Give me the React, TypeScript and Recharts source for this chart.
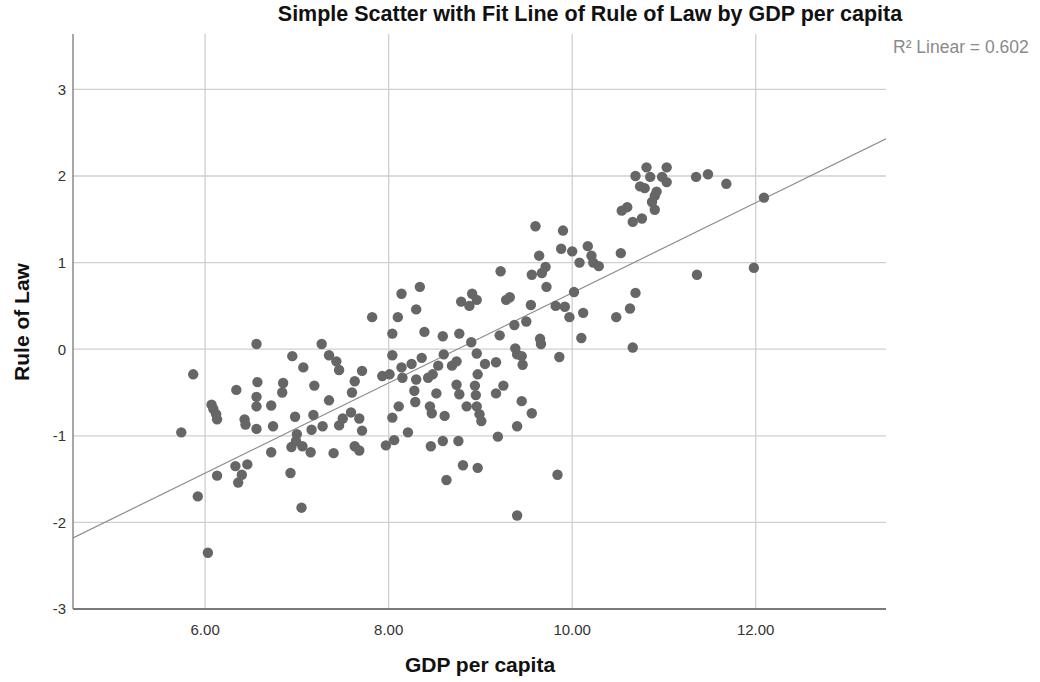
import React from "react";
import {
  ScatterChart,
  Scatter,
  XAxis,
  YAxis,
  CartesianGrid,
  ReferenceLine,
} from "recharts";

const gdpPerCapita: number[] = [
  5.74, 5.87, 5.92, 6.03, 6.07, 6.09, 6.12, 6.13, 6.13, 6.33, 6.34, 6.36, 6.4, 6.43, 6.44, 6.46,
  6.56, 6.57, 6.56, 6.56, 6.56, 6.72, 6.74, 6.72, 6.85, 6.84, 6.93, 6.94, 6.95, 6.98, 7.0, 6.99,
  7.05, 7.06, 7.07, 7.15, 7.16, 7.18, 7.19, 7.27, 7.28, 7.35, 7.35, 7.4, 7.43, 7.46, 7.46, 7.5,
  7.59, 7.6, 7.63, 7.63, 7.68, 7.68, 7.71, 7.71, 7.82, 7.93, 7.97,
  8.01, 8.04, 8.04, 8.04, 8.06, 8.1, 8.11, 8.14, 8.14, 8.15, 8.21, 8.25, 8.28, 8.29, 8.3, 8.3,
  8.34, 8.36, 8.39, 8.43, 8.45, 8.46, 8.47, 8.48, 8.52, 8.54, 8.59, 8.59, 8.6, 8.61, 8.63, 8.69,
  8.74, 8.74, 8.76, 8.77, 8.77, 8.79, 8.81, 8.85, 8.88, 8.9, 8.91, 8.94, 8.95, 8.96, 8.96, 8.96,
  8.97, 8.97, 8.99, 9.01, 9.05, 9.17, 9.17, 9.19, 9.21, 9.22, 9.25, 9.28, 9.32, 9.37, 9.38, 9.4,
  9.4, 9.4, 9.45, 9.45, 9.46, 9.5, 9.55, 9.56, 9.56, 9.6, 9.64, 9.65, 9.66, 9.67, 9.71, 9.72,
  9.82, 9.84, 9.86, 9.88, 9.9, 9.92, 9.97,
  10.0, 10.02, 10.08, 10.1, 10.12, 10.17, 10.21, 10.23, 10.29, 10.48, 10.53, 10.54, 10.6, 10.63,
  10.66, 10.66, 10.69, 10.69, 10.74, 10.76, 10.79, 10.81, 10.85, 10.87, 10.9, 10.9, 10.92, 10.98,
  11.03, 11.03, 11.35, 11.36, 11.48, 11.68, 11.98, 12.09,
];

const ruleOfLaw: number[] = [
  -0.96, -0.29, -1.7, -2.35, -0.64, -0.69, -0.75, -0.81, -1.46, -1.35, -0.47, -1.54, -1.45, -0.81, -0.87, -1.33,
  0.06, -0.38, -0.55, -0.66, -0.92, -0.65, -0.89, -1.19, -0.39, -0.5, -1.43, -1.13, -0.08, -0.78, -0.98, -1.06,
  -1.83, -1.12, -0.21, -1.19, -0.93, -0.76, -0.42, 0.06, -0.89, -0.07, -0.59, -1.2, -0.14, -0.24, -0.88, -0.8,
  -0.73, -0.5, -0.37, -1.12, -0.8, -1.17, -0.25, -0.94, 0.37, -0.31, -1.11,
  -0.29, 0.18, -0.07, -0.79, -1.05, 0.37, -0.66, 0.64, -0.21, -0.33, -0.96, -0.17, -0.48, -0.61, 0.46, -0.35,
  0.72, -0.1, 0.2, -0.33, -0.66, -1.12, -0.74, -0.29, -0.51, -0.19, 0.15, -1.06, -0.06, -0.77, -1.51, -0.19,
  -0.14, -0.41, -1.06, 0.18, -0.52, 0.55, -1.34, -0.66, 0.5, 0.08, 0.64, -0.42, -0.53, 0.57, -0.05, -0.66,
  -0.29, -1.37, -0.75, -0.83, -0.17, -0.15, -0.51, -1.01, 0.16, 0.9, -0.42, 0.57, 0.6, 0.28, 0.01, -0.06,
  -0.89, -1.92, -0.08, -0.6, -0.18, 0.32, 0.51, 0.86, -0.74, 1.42, 1.08, 0.12, 0.06, 0.88, 0.95, 0.72,
  0.5, -1.45, -0.09, 1.16, 1.37, 0.49, 0.37,
  1.13, 0.66, 1.0, 0.13, 0.42, 1.19, 1.08, 1.0, 0.96, 0.37, 1.11, 1.6, 1.64, 0.47,
  1.47, 0.02, 0.65, 2.0, 1.88, 1.51, 1.86, 2.1, 1.99, 1.7, 1.77, 1.61, 1.82, 1.99,
  2.1, 1.93, 1.99, 0.86, 2.02, 1.91, 0.94, 1.75,
];

const xTicks: number[] = [6, 8, 10, 12];
const yTicks: number[] = [-3, -2, -1, 0, 1, 2, 3];
const xDomain: [number, number] = [4.56, 13.42];
const yDomain: [number, number] = [-3, 3.64];
const fitLineX: number[] = [4.56, 13.42];
const fitLineY: number[] = [-2.18, 2.43];

const points = gdpPerCapita.map((x, i) => ({ x, y: ruleOfLaw[i] }));

const FONT = '"Liberation Sans", Arial, sans-serif';

const Dot = (props: any) => {
  const { cx, cy } = props;
  if (cx == null || cy == null) return null;
  return <circle cx={cx} cy={cy} r={5.2} fill="#666666" />;
};

export default function App() {
  return (
    <div
      style={{
        position: "absolute",
        left: 0,
        top: 0,
        width: 1040,
        height: 682,
        background: "#ffffff",
        fontFamily: FONT,
      }}
    >
      <ScatterChart
        width={1040}
        height={682}
        margin={{ top: 34, right: 154, bottom: 33, left: 13 }}
      >
        <CartesianGrid stroke="#cfcfcf" strokeWidth={1.3} horizontalValues={yTicks} verticalValues={xTicks} />
        <XAxis
          type="number"
          dataKey="x"
          domain={xDomain}
          ticks={xTicks}
          allowDataOverflow
          height={40}
          tickLine={false}
          tickSize={0}
          tickMargin={15}
          tickFormatter={(v: number) => v.toFixed(2)}
          tick={{ fill: "#333333", fontSize: 15, fontFamily: FONT }}
          axisLine={{ stroke: "#7a7a7a", strokeWidth: 2 }}
        />
        <YAxis
          type="number"
          dataKey="y"
          domain={yDomain}
          ticks={yTicks}
          allowDataOverflow
          width={60}
          tickLine={false}
          tickSize={0}
          tickMargin={7}
          tick={{ fill: "#333333", fontSize: 15, fontFamily: FONT }}
          axisLine={{ stroke: "#8a8a8a", strokeWidth: 1.5 }}
        />
        <ReferenceLine
          segment={[
            { x: fitLineX[0], y: fitLineY[0] },
            { x: fitLineX[1], y: fitLineY[1] },
          ]}
          stroke="#8c8c8c"
          strokeWidth={1.2}
          ifOverflow="hidden"
        />
        <Scatter data={points} shape={<Dot />} isAnimationActive={false} />
      </ScatterChart>

      <div
        style={{
          position: "absolute",
          left: 0,
          width: 1180,
          top: 1,
          textAlign: "center",
          fontSize: 21.5,
          fontWeight: "bold",
          color: "#111111",
          lineHeight: "26px",
          whiteSpace: "nowrap",
        }}
      >
        Simple Scatter with Fit Line of Rule of Law by GDP per capita
      </div>
      <div
        style={{
          position: "absolute",
          left: 893,
          top: 36,
          fontSize: 17.5,
          color: "#8a8a8a",
          whiteSpace: "nowrap",
          lineHeight: "22px",
        }}
      >
        R² Linear = 0.602
      </div>
      <div
        style={{
          position: "absolute",
          left: 0,
          width: 960,
          top: 652,
          textAlign: "center",
          fontSize: 21,
          fontWeight: "bold",
          color: "#111111",
          lineHeight: "26px",
        }}
      >
        GDP per capita
      </div>
      <div
        style={{
          position: "absolute",
          left: 22,
          top: 322,
          transform: "translate(-50%, -50%) rotate(-90deg)",
          fontSize: 21,
          fontWeight: "bold",
          color: "#111111",
          whiteSpace: "nowrap",
          lineHeight: "26px",
        }}
      >
        Rule of Law
      </div>
    </div>
  );
}
